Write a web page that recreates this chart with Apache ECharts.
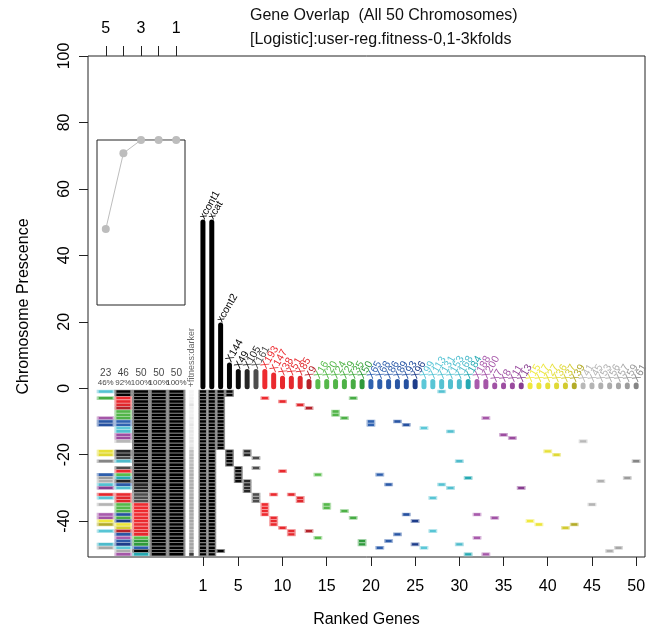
<!DOCTYPE html>
<html>
<head>
<meta charset="utf-8">
<script src="https://cdn.jsdelivr.net/npm/echarts@6/dist/echarts.min.js"></script>
<style>
  html, body { margin: 0; padding: 0; background: #fff; }
  #chart { width: 646px; height: 628px; }
</style>
</head>
<body>
<div id="chart"></div>
<script>
// ranked genes (x = rank 1..50)
const geneNames = ['xcont1','xcat','xcont2','X144','X49','X105','X161',
  'X193','X147','X38','X51','X85','X9',
  'X16','X20','X24','X29','X35','X50',
  'X65','X68','X86','X89','X93','X96',
  'X99','X113','X131','X153','X168','X184',
  'X188','X200','X7','X8','X11','X13',
  'X15','X17','X27','X36','X37','X39',
  'X41','X45','X53','X56','X57','X59','X61'];
const geneCounts = [50,50,19,7,5,5,5,5,4,3,3,3,2,
  2,2,2,2,2,2, 2,2,2,2,2,2, 2,2,2,2,2,2, 2,2,1,1,1,1,
  1,1,1,1,1,1, 1,1,1,1,1,1,1];
// chromosomes (rows 1..50) in which each ranked gene was selected
const geneRows = [
  [1,2,3,4,5,6,7,8,9,10,11,12,13,14,15,16,17,18,19,20,21,22,23,24,25,26,27,28,29,30,31,32,33,34,35,36,37,38,39,40,41,42,43,44,45,46,47,48,49,50],
  [1,2,3,4,5,6,7,8,9,10,11,12,13,14,15,16,17,18,19,20,21,22,23,24,25,26,27,28,29,30,31,32,33,34,35,36,37,38,39,40,41,42,43,44,45,46,47,48,49,50],
  [1,2,3,4,5,6,7,8,9,10,11,12,13,14,15,16,17,18,49],
  [1,2,19,20,21,22,23],
  [24,25,26,27,28],
  [19,20,28,29,30,31],
  [21,24,32,33,34],
  [3,35,36,37,38],
  [32,39,40,41],
  [4,25,42],
  [32,43,44],
  [5,33,34],
  [6,43],
  [26,45],
  [35,36],
  [7,8],
  [9,37],
  [3,39],
  [46,47],
  [10,11],
  [26,48],
  [29,46],
  [10,44],
  [11,38],
  [40,47],
  [12,48],
  [33,43],
  [1,29],
  [13,30],
  [22,47],
  [27,50],
  [38,45],
  [9,50],
  [39],[14],[15],[30],
  [40],[41],[19],[20],[42],[41],
  [16],[35],[28],[49],[48],[27],[22]
];
// overlap columns (top axis 5..1)
const overlapX = [-10, -8, -6, -4, -2];
const overlapTicks = ['5', '4', '3', '2', '1'];
const overlapCounts = ['23', '46', '50', '50', '50'];
const overlapPercentText = ['46%', '92%', '100%', '100%', '100%'];
const overlapPct = [46, 92, 100, 100, 100];
// fitness per chromosome (darker = higher)
const fitness = [0.02,0.02,0.03,0.05,0.12,0.04,0.05,0.04,0.08,0.06,
  0.1,0.07,0.1,0.08,0.1,0.12,0.08,0.14,0.3,0.3,
  0.32,0.3,0.32,0.34,0.35,0.38,0.36,0.38,0.38,0.4,
  0.36,0.38,0.4,0.38,0.4,0.4,0.42,0.4,0.4,0.42,
  0.4,0.42,0.4,0.42,0.44,0.42,0.44,0.44,0.45,1.0];
const xTicks = [1,5,10,15,20,25,30,35,40,45,50];
const yTicks = [-40,-20,0,20,40,60,80,100];

// colours per gene rank
const geneColors = [
  '#000000','#000000','#000000','#050505','#0a0a0a','#262626','#4d4d4d',
  '#ee2a2f','#ea2a2f','#e8292e','#e5282d','#df272c','#b5222a',
  '#59bc4c','#55b84a','#52b548','#4db146','#47ac44','#2f9a3c',
  '#2f62b0','#2d5eac','#2b5aa8','#2956a4','#2651a0','#1d3c8a',
  '#5cc8d8','#58c5d5','#55c2d2','#52bfcf','#4ebbcb','#25a9b2',
  '#a95bac','#a556a8','#a152a5','#9d4ea1','#994a9e','#873d90',
  '#f0e93c','#ece53a','#e7e038','#e0d935','#d3cb31','#b3ab28',
  '#b8b8b8','#b4b4b4','#b0b0b0','#acacac','#a6a6a6','#9c9c9c','#858585'];

const FONT = '"Liberation Sans", Arial, Helvetica, sans-serif';

function lighten(hex, t) {
  const n = parseInt(hex.slice(1), 16);
  const r = (n >> 16) & 255, g = (n >> 8) & 255, b = n & 255;
  const m = v => Math.round(v + (255 - v) * t);
  return 'rgb(' + m(r) + ',' + m(g) + ',' + m(b) + ')';
}

// gene x chromosome markers
const markerData = [];
geneRows.forEach((rows, i) => {
  rows.forEach(r => {
    markerData.push({
      value: [i + 1, -r],
      itemStyle: { color: geneColors[i], borderColor: lighten(geneColors[i], 0.55) }
    });
  });
});

// overlap columns: k-th gene (by rank) of each chromosome
const rowGenes = [];
for (let r = 1; r <= 50; r++) rowGenes.push([]);
geneRows.forEach((rows, i) => rows.forEach(r => rowGenes[r - 1].push(i + 1)));
const columnData = [];
rowGenes.forEach((genes, ri) => {
  genes.sort((a, b) => a - b);
  overlapX.forEach((x, k) => {
    const idx = overlapX.length - 1 - k;
    if (genes.length > idx) {
      const c = geneColors[genes[idx] - 1];
      columnData.push({
        value: [x, -(ri + 1)],
        itemStyle: { color: c, borderColor: lighten(c, 0.55) }
      });
    }
  });
});

const fitnessData = fitness.map((f, i) => {
  const v = Math.round(248 - 190 * f);
  const c = 'rgb(' + v + ',' + v + ',' + v + ')';
  return { value: [-0.3, -(i + 1)], itemStyle: { color: c, borderColor: c } };
});

const barData = geneCounts.map((c, i) => [i + 1, c]);

const textData = [];
overlapX.forEach((x, k) => {
  textData.push({ value: [x, 4.5], name: overlapCounts[k], label: { fontSize: 10 } });
  textData.push({ value: [x, 1.5], name: overlapPercentText[k], label: { fontSize: 8 } });
});

const chart = echarts.init(document.getElementById('chart'), null, { renderer: 'canvas' });

const option = {
  animation: false,
  textStyle: { fontFamily: FONT },
  graphic: [
    { type: 'text', left: 250, top: 8, style: { text: 'Gene Overlap  (All 50 Chromosomes)', font: '16px ' + FONT, fill: '#111' } },
    { type: 'text', left: 250, top: 32, style: { text: '[Logistic]:user-reg.fitness-0,1-3kfolds', font: '16px ' + FONT, fill: '#111' } }
  ],
  grid: [
    { left: 88, top: 56, width: 557, height: 501, show: true, borderColor: '#222', borderWidth: 1,
      backgroundColor: 'transparent', containLabel: false, outerBoundsMode: 'none' },
    { left: 97, top: 140, width: 88, height: 165, show: true, borderColor: '#222', borderWidth: 1,
      backgroundColor: 'transparent', containLabel: false, outerBoundsMode: 'none' }
  ],
  xAxis: [
    {
      gridIndex: 0, type: 'value', min: -12, max: 51,
      axisLine: { show: false, onZero: false },
      axisTick: { customValues: xTicks, length: 9, lineStyle: { color: '#222' } },
      axisLabel: { customValues: xTicks, fontSize: 16, color: '#000', margin: 22 },
      splitLine: { show: false },
      name: 'Ranked Genes', nameLocation: 'middle', nameGap: 55,
      nameTextStyle: { fontSize: 16, color: '#000' }
    },
    {
      gridIndex: 1, type: 'value', min: -11, max: -1, position: 'top', offset: 84,
      axisLine: { show: false, onZero: false },
      axisTick: { customValues: overlapX, length: 10, lineStyle: { color: '#222' } },
      axisLabel: {
        customValues: [overlapX[0], overlapX[2], overlapX[4]],
        formatter: v => overlapTicks[overlapX.indexOf(v)],
        fontSize: 16, color: '#000', margin: 19
      },
      splitLine: { show: false }
    }
  ],
  yAxis: [
    {
      gridIndex: 0, type: 'value', min: -50.8, max: 100,
      axisLine: { show: false, onZero: false },
      axisTick: { customValues: yTicks, length: 9, lineStyle: { color: '#222' } },
      axisLabel: { customValues: yTicks, rotate: 90, fontSize: 16, color: '#000', margin: 15 },
      splitLine: { show: false },
      name: 'Chromosome Prescence', nameLocation: 'middle', nameGap: 56,
      nameTextStyle: { fontSize: 16, color: '#000' }
    },
    { gridIndex: 1, type: 'value', min: 0, max: 100, show: false, axisLine: { onZero: false } }
  ],
  series: [
    {
      type: 'custom', xAxisIndex: 0, yAxisIndex: 0,
      data: barData,
      encode: { x: 0, y: 1 },
      renderItem: function (params, api) {
        const g = api.value(0), v = api.value(1);
        const p0 = api.coord([g, 0]);
        const p1 = api.coord([g, v]);
        const c = geneColors[g - 1];
        const y0 = p0[1] - 1.5;
        const y1 = Math.min(p1[1], y0);
        return {
          type: 'group',
          children: [
            { type: 'line', shape: { x1: p0[0], y1: y0, x2: p1[0], y2: y1 },
              style: { stroke: c, lineWidth: 5, lineCap: 'round' } },
            { type: 'text', x: p1[0] - 1, y: y1 - 3.5, rotation: 60 * Math.PI / 180,
              style: { text: geneNames[g - 1], fill: c, fontSize: 10.5, fontFamily: FONT,
                align: 'left', verticalAlign: 'middle' } }
          ]
        };
      }
    },
    {
      type: 'scatter', xAxisIndex: 0, yAxisIndex: 0,
      symbol: 'rect', symbolSize: [7.5, 3],
      itemStyle: { borderWidth: 0.9, opacity: 1 },
      data: markerData
    },
    {
      type: 'scatter', xAxisIndex: 0, yAxisIndex: 0,
      symbol: 'rect', symbolSize: [16, 3],
      itemStyle: { borderWidth: 0.9, opacity: 1 },
      data: columnData
    },
    {
      type: 'scatter', xAxisIndex: 0, yAxisIndex: 0,
      symbol: 'rect', symbolSize: [4, 2.6],
      itemStyle: { borderWidth: 0.5, opacity: 1 },
      data: fitnessData
    },
    {
      type: 'scatter', xAxisIndex: 0, yAxisIndex: 0,
      symbolSize: 0, itemStyle: { color: 'transparent' },
      label: { show: true, position: 'inside', formatter: '{b}', color: '#111', fontFamily: FONT },
      data: textData
    },
    {
      type: 'scatter', xAxisIndex: 0, yAxisIndex: 0,
      symbolSize: 0, itemStyle: { color: 'transparent' },
      label: { show: true, position: 'inside', formatter: '{b}', rotate: 90, align: 'left',
        verticalAlign: 'middle', fontSize: 9, color: '#444', fontFamily: FONT },
      data: [{ value: [-0.3, 0.3], name: '+fitness:darker' }]
    },
    {
      type: 'line', xAxisIndex: 1, yAxisIndex: 1,
      data: overlapX.map((x, k) => [x, overlapPct[k]]),
      symbol: 'circle', symbolSize: 8,
      lineStyle: { color: '#bdbdbd', width: 1 },
      itemStyle: { color: '#bdbdbd' }
    }
  ]
};

chart.setOption(option);
</script>
</body>
</html>
